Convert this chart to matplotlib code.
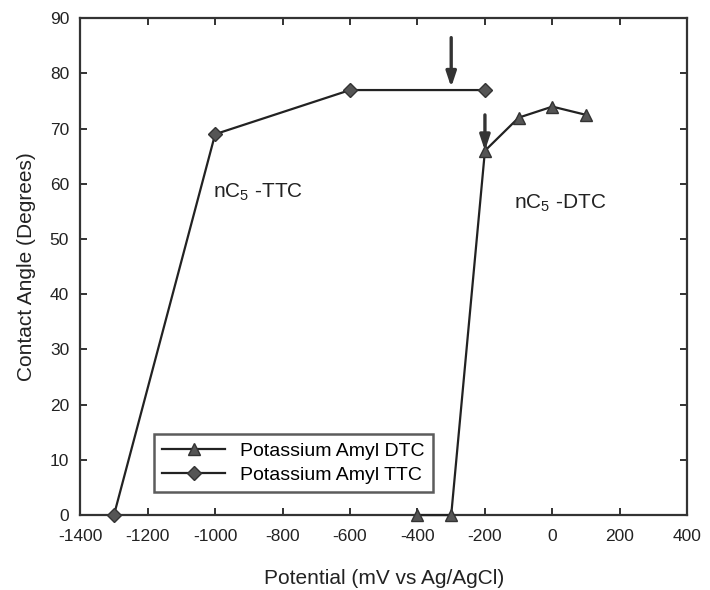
import matplotlib
matplotlib.use("Agg")
import matplotlib.pyplot as plt

plt.rcParams['font.family'] = ['Liberation Sans', 'DejaVu Sans']
plt.rcParams['mathtext.fontset'] = 'custom'
plt.rcParams['mathtext.rm'] = 'Liberation Sans'
plt.rcParams['mathtext.it'] = 'Liberation Sans'
plt.rcParams['axes.unicode_minus'] = False

# Datos
potencial_dtc = [-400, -300, -200, -100, 0, 100]
angulo_dtc = [0, 0, 66, 72, 74, 72.5]

potencial_ttc = [-1300, -1000, -600, -200]
angulo_ttc = [0, 69, 77, 77]

# Flechas (x, y inicio, y fin)
flechas_x = [-300, -200]
flechas_y0 = [87, 73]
flechas_y1 = [77, 65.5]

fig = plt.figure(figsize=(7.1, 5.9), dpi=100)
ax = fig.add_axes([0.113, 0.127, 0.855, 0.842])

ax.plot(potencial_dtc, angulo_dtc, color='#222222', lw=1.6, marker='^',
        markersize=8, markerfacecolor='#555555', markeredgecolor='#333333',
        label='Potassium Amyl DTC', clip_on=False, zorder=3)
ax.plot(potencial_ttc, angulo_ttc, color='#222222', lw=1.6, marker='D',
        markersize=7, markerfacecolor='#555555', markeredgecolor='#333333',
        label='Potassium Amyl TTC', clip_on=False, zorder=3)

for x, y0, y1 in zip(flechas_x, flechas_y0, flechas_y1):
    ax.annotate('', xy=(x, y1), xytext=(x, y0),
                arrowprops=dict(arrowstyle='-|>,head_length=0.9,head_width=0.3',
                                color='#333333', lw=2.4))

ax.text(-1005, 57.5, 'nC$_5$ -TTC', fontsize=15, color='#222222')
ax.text(-115, 55.5, 'nC$_5$ -DTC', fontsize=15, color='#222222')

ax.set_xlim(-1400, 400)
ax.set_ylim(0, 90)
ax.set_xticks(range(-1400, 401, 200))
ax.set_yticks(range(0, 91, 10))
ax.tick_params(direction='in', top=True, right=True, length=5, width=1.3,
               labelsize=12.5, colors='#222222')
ax.tick_params(axis='x', pad=10)
ax.tick_params(axis='y', pad=8)
for s in ax.spines.values():
    s.set_linewidth(1.6)
    s.set_color('#333333')

ax.set_xlabel('Potential (mV vs Ag/AgCl)', fontsize=15, labelpad=18, color='#222222')
ax.set_ylabel('Contact Angle (Degrees)', fontsize=15, labelpad=10, color='#222222')

leg = ax.legend(loc='lower left', bbox_to_anchor=(0.105, 0.026), fontsize=14,
                frameon=True, fancybox=False, edgecolor='#333333',
                handlelength=3.2, borderpad=0.45, labelspacing=0.3)
leg.get_frame().set_linewidth(1.8)

fig.savefig('out.png', dpi=100)
